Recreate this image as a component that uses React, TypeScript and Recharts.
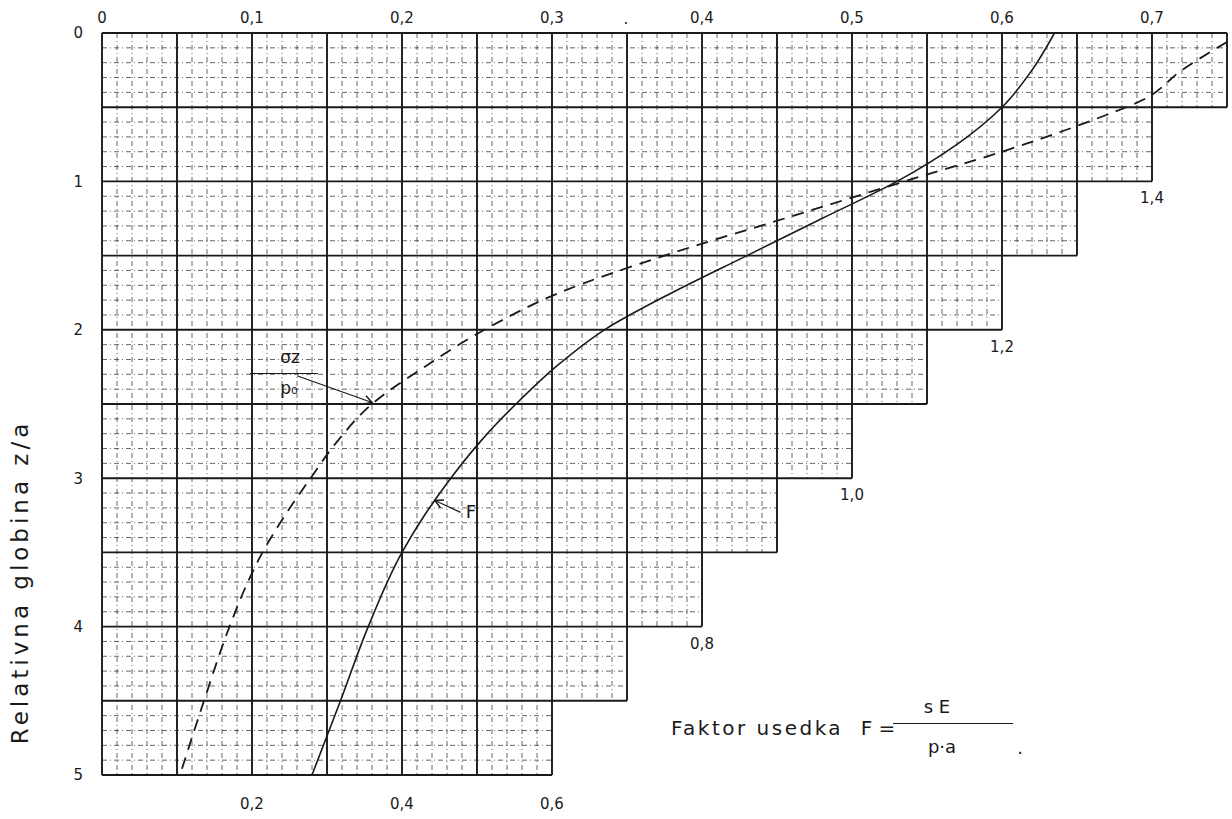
import { LineChart, Line, XAxis, YAxis, ReferenceLine } from 'recharts'

// relativna globina z/a (left axis, downwards)
const depthTicks = [0, 1, 2, 3, 4, 5]
// sigma_z / p0 scale along the top
const stressTicks = [0, 0.1, 0.2, 0.3, 0.4, 0.5, 0.6, 0.7]
// faktor usedka F along the bottom
const factorTicks = [0.2, 0.4, 0.6]

// staircase: each half-unit row of z/a and where its grid stops (in F)
const rowTops = [0, 0.5, 1, 1.5, 2, 2.5, 3, 3.5, 4, 4.5]
const rowEdgesF = [1.5, 1.4, 1.3, 1.2, 1.1, 1.0, 0.9, 0.8, 0.7, 0.6]
const stepLabels = ['1,4', '1,2', '1,0', '0,8']
const stepLabelF = [1.4, 1.2, 1.0, 0.8]
const stepLabelZ = [1, 2, 3, 4]

// solid curve: F = s·E / p·a
const factorDepth = [0, 0.25, 0.5, 0.75, 1, 1.25, 1.5, 1.75, 2, 2.25, 2.5, 2.75, 3, 3.25, 3.5, 4, 4.5, 5]
const factorValues = [1.27, 1.24, 1.2, 1.14, 1.06, 0.96, 0.86, 0.76, 0.67, 0.605, 0.552, 0.505, 0.465, 0.43, 0.4, 0.355, 0.318, 0.28]

// dashed curve: sigma_z / p0
const stressDepth = [0.06, 0.25, 0.45, 0.6, 0.8, 1, 1.25, 1.5, 1.75, 2, 2.25, 2.5, 2.75, 3, 3.25, 3.5, 3.75, 4, 4.5, 5]
const stressValues = [0.75, 0.72, 0.694, 0.657, 0.6, 0.535, 0.455, 0.375, 0.305, 0.255, 0.215, 0.18, 0.157, 0.139, 0.122, 0.107, 0.095, 0.085, 0.068, 0.052]

const factorData = factorDepth.map((z, i) => ({ z, F: factorValues[i] }))
const stressData = stressDepth.map((z, i) => ({ z, s: stressValues[i] }))

const INK = '#1a1a1a'
const FONT = '"DejaVu Sans", sans-serif'

const fmt = (v: number) => (v === 0 ? '0' : v.toFixed(1).replace('.', ','))

// grid lines clipped to the staircase
const vLines = Array.from({ length: 76 }, (_, i) => {
  const f = i * 0.02
  let bottom = 0
  rowTops.forEach((t, k) => {
    if (rowEdgesF[k] >= f - 1e-9) bottom = t + 0.5
  })
  return { f, bottom, major: i % 5 === 0 }
})
const hLines = Array.from({ length: 51 }, (_, j) => {
  const z = j / 10
  const major = j % 5 === 0
  const row = major ? Math.max(0, j / 5 - 1) : Math.floor(j / 5)
  return { z, edge: rowEdgesF[row], major }
})

const Arrow = (p: any) => {
  const { x1, y1, x2, y2 } = p
  const a = Math.atan2(y2 - y1, x2 - x1)
  const h = 9
  const wing = (s: number) => `${x2 - h * Math.cos(a + s)},${y2 - h * Math.sin(a + s)}`
  return (
    <g>
      <line x1={x1} y1={y1} x2={x2} y2={y2} stroke={INK} strokeWidth={1.2} />
      <polyline points={`${wing(0.5)} ${x2},${y2} ${wing(-0.5)}`} fill="none" stroke={INK} strokeWidth={1.5} />
    </g>
  )
}

const txt = (x: number, y: number, size: number): React.CSSProperties => ({
  position: 'absolute',
  left: x,
  top: y,
  transform: 'translate(-50%, -50%)',
  fontFamily: FONT,
  fontSize: size,
  color: INK,
  whiteSpace: 'nowrap',
  lineHeight: 1,
})

export default function App() {
  return (
    <div style={{ position: 'absolute', left: 0, top: 0, width: 1232, height: 819, background: '#fff' }}>
      <LineChart
        layout="vertical"
        width={1232}
        height={819}
        margin={{ top: 13, right: 5, bottom: 4, left: 42 }}
      >
        <XAxis
          xAxisId="top"
          type="number"
          orientation="top"
          domain={[0, 0.75]}
          ticks={stressTicks}
          tickFormatter={fmt}
          height={20}
          axisLine={false}
          tickLine={false}
          tickMargin={4}
          allowDataOverflow
          tick={{ fontFamily: FONT, fontSize: 15, fill: INK }}
        />
        <XAxis
          xAxisId="F"
          type="number"
          orientation="bottom"
          domain={[0, 1.5]}
          ticks={factorTicks}
          tickFormatter={fmt}
          height={40}
          axisLine={false}
          tickLine={false}
          tickMargin={17}
          allowDataOverflow
          tick={{ fontFamily: FONT, fontSize: 15, fill: INK }}
        />
        <YAxis
          type="number"
          dataKey="z"
          domain={[0, 5]}
          ticks={depthTicks}
          width={60}
          axisLine={false}
          tickLine={false}
          tickMargin={13}
          allowDataOverflow
          tick={{ fontFamily: FONT, fontSize: 15, fill: INK }}
        />

        {vLines.map((l) => (
          <ReferenceLine
            key={`v${l.f}`}
            xAxisId="F"
            segment={[{ x: l.f, y: 0 }, { x: l.f, y: l.bottom }]}
            stroke={l.major ? INK : '#333'}
            strokeWidth={l.major ? 1.9 : 0.75}
            strokeDasharray={l.major ? undefined : '5 3 1 3'}
            ifOverflow="visible"
          />
        ))}
        {hLines.map((l) => (
          <ReferenceLine
            key={`h${l.z}`}
            xAxisId="F"
            segment={[{ x: 0, y: l.z }, { x: l.edge, y: l.z }]}
            stroke={l.major ? INK : '#333'}
            strokeWidth={l.major ? 1.9 : 0.75}
            strokeDasharray={l.major ? undefined : '5 3 1 3'}
            ifOverflow="visible"
          />
        ))}

        <ReferenceLine
          xAxisId="top"
          segment={[{ x: 0.13, y: 2.31 }, { x: 0.18, y: 2.49 }]}
          shape={Arrow}
          ifOverflow="visible"
        />
        <ReferenceLine
          xAxisId="top"
          segment={[{ x: 0.239, y: 3.23 }, { x: 0.222, y: 3.15 }]}
          shape={Arrow}
          ifOverflow="visible"
        />

        <Line
          xAxisId="F"
          data={factorData}
          dataKey="F"
          type="monotone"
          stroke={INK}
          strokeWidth={1.6}
          dot={false}
          isAnimationActive={false}
        />
        <Line
          xAxisId="top"
          data={stressData}
          dataKey="s"
          type="monotone"
          stroke={INK}
          strokeWidth={1.8}
          strokeDasharray="12 8"
          dot={false}
          isAnimationActive={false}
        />
      </LineChart>

      {stepLabels.map((s, i) => (
        <div key={s} style={txt(102 + stepLabelF[i] * 750, 33 + stepLabelZ[i] * 148.4 + 17, 15)}>
          {s}
        </div>
      ))}

      <div style={txt(626, 19, 15)}>.</div>

      <div style={{ ...txt(20, 582, 23), transform: 'translate(-50%, -50%) rotate(-90deg)', letterSpacing: 4 }}>
        Relativna globina z/a
      </div>

      <div style={{ ...txt(757, 728, 20), letterSpacing: 2.5 }}>Faktor usedka</div>
      <div style={txt(878, 728, 20)}>F =</div>
      <div style={txt(937, 707, 18)}>s E</div>
      <div style={{ position: 'absolute', left: 893, top: 723, width: 120, height: 0, borderTop: `1.3px solid ${INK}` }} />
      <div style={txt(942, 747, 18)}>p·a</div>
      <div style={txt(1020, 748, 18)}>.</div>

      <div style={txt(290, 357, 17)}>σz</div>
      <div style={{ position: 'absolute', left: 250, top: 373, width: 68, height: 0, borderTop: `1.2px solid ${INK}` }} />
      <div style={txt(289, 388, 17)}>p₀</div>
      <div style={txt(471, 512, 18)}>F</div>
    </div>
  )
}
